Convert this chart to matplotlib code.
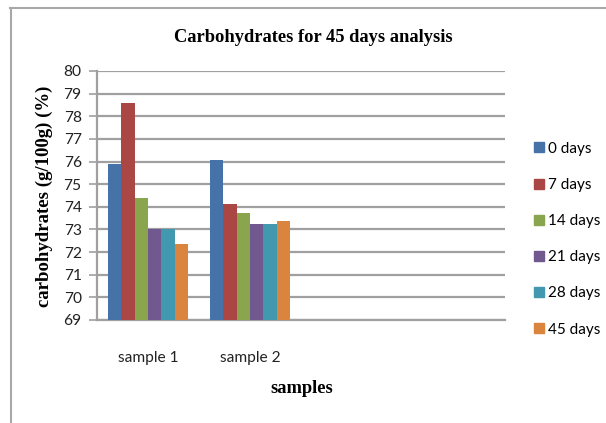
import numpy as np
import matplotlib
matplotlib.use("Agg")
import matplotlib.pyplot as plt
from matplotlib.lines import Line2D

# ----- data -----
samples = ["sample 1", "sample 2", "", ""]
series = ["0 days", "7 days", "14 days", "21 days", "28 days", "45 days"]
day0 = [75.87, 76.09]
day7 = [78.59, 74.13]
day14 = [74.41, 73.73]
day21 = [73.00, 73.24]
day28 = [73.00, 73.24]
day45 = [72.37, 73.37]
values = [day0, day7, day14, day21, day28, day45]
colors = ["#4572A7", "#AA4643", "#89A54E", "#71588F", "#4198AF", "#DB843D"]

W, H = 606, 423
fig = plt.figure(figsize=(W / 100, H / 100), dpi=100)
ax = fig.add_axes([97 / W, 1 - 320 / H, (505 - 97) / W, (320 - 71) / H])

ybase = 69
n = len(series)
group_w = 0.78
bar_w = group_w / n
x = np.arange(len(day0))
for i, (name, vals, c) in enumerate(zip(series, values, colors)):
    pos = x - group_w / 2 + bar_w * (i + 0.5)
    ax.bar(pos, np.array(vals) - ybase, bottom=ybase, width=bar_w,
           color=c, label=name, zorder=3)

ax.set_xlim(-0.5, len(samples) - 0.5)
ax.set_ylim(69, 80)
ax.set_yticks(np.arange(69, 81, 1))
ax.set_xticks(np.arange(len(samples)))
ax.set_xticklabels(samples)

for lab in ax.get_xticklabels() + ax.get_yticklabels():
    lab.set_fontfamily("Lato")
    lab.set_fontsize(11.2)
    lab.set_color("#222222")

ax.tick_params(axis="y", length=6, width=1.2, color="#A0A0A0", pad=5)
ax.tick_params(axis="x", length=0, pad=22)
ax.grid(axis="y", color="#A0A0A0", linewidth=1.6, zorder=0)
for s in ["top", "right"]:
    ax.spines[s].set_visible(False)
for s in ["left", "bottom"]:
    ax.spines[s].set_color("#A0A0A0")
    ax.spines[s].set_linewidth(1.6)

serif_bold = dict(family="Liberation Serif", weight="bold")
fig.text(313 / W, 1 - 37 / H, "Carbohydrates for 45 days analysis",
         ha="center", va="center", fontsize=13.3, **serif_bold)
fig.text(44 / W, 1 - 196 / H, "carbohydrates (g/100g) (%)", rotation=90,
         ha="center", va="center", fontsize=13.5, **serif_bold)
fig.text(302 / W, 1 - 388 / H, "samples",
         ha="center", va="center", fontsize=13.3, **serif_bold)

handles = [Line2D([], [], marker="s", linestyle="none", markersize=7.5,
                  markerfacecolor=c, markeredgecolor=c) for c in colors]
leg = fig.legend(handles, series, loc="upper left",
                 bbox_to_anchor=(520 / W, 1 - 128 / H), frameon=False,
                 handlelength=0.7, handletextpad=0.2, labelspacing=1.45,
                 prop=dict(family="Lato", size=11))

# outer frame of the chart area (left and top edges visible)
fig.add_artist(Line2D([10.5 / W, 10.5 / W], [0, 1 - 8 / H],
                      transform=fig.transFigure, color="#A8A8A8", lw=1.5))
fig.add_artist(Line2D([10 / W, 1], [1 - 8 / H, 1 - 8 / H],
                      transform=fig.transFigure, color="#A8A8A8", lw=1.5))

fig.savefig("out.png", dpi=100)
